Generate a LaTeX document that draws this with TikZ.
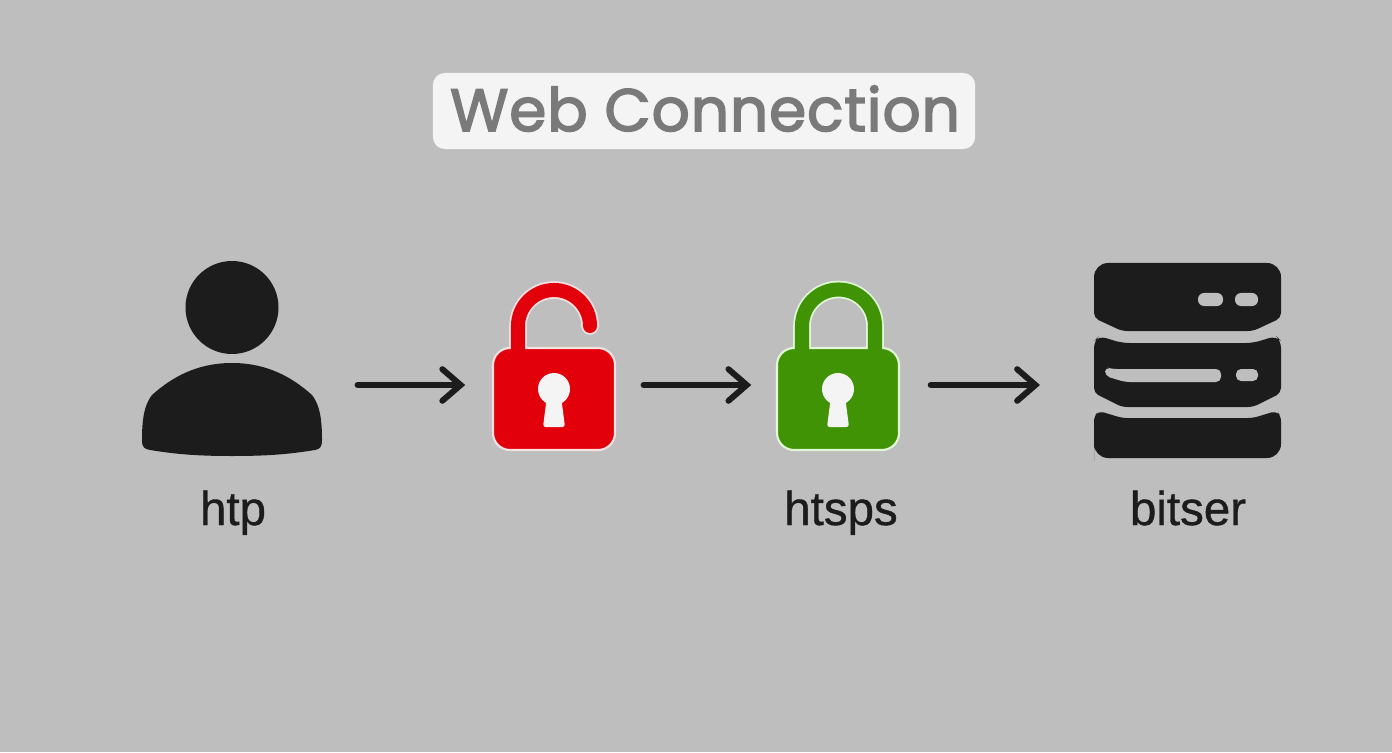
\documentclass[tikz,border=0pt]{standalone}
\usepackage{fontspec}
\newfontfamily\titlefont[FakeBold=2.6,LetterSpace=1.5]{Poppins}
\newfontfamily\labelfont[FakeBold=0.8]{Liberation Sans}
\usetikzlibrary{arrows.meta}
\definecolor{bgcol}{HTML}{BEBEBE}
\definecolor{icocol}{HTML}{1C1C1C}
\definecolor{lockred}{HTML}{E2000A}
\definecolor{lockgreen}{HTML}{3F9305}
\definecolor{palered}{HTML}{F6E2E2}
\definecolor{palegreen}{HTML}{E2F6D8}
\definecolor{keycol}{HTML}{F4F4F4}
\tikzset{
	iconbox/.style = {minimum height = 2cm, inner sep = 0pt},
	lbl/.style = {anchor = base, inner sep = 0pt, text = icocol, font = \labelfont\fontsize{13.5}{15}\selectfont},
	flow/.style = {-{Straight Barb[length = 5.2pt, width = 9pt, line cap = round]}, line width = 1.7pt, line cap = round, color = icocol},
}

\begin{document}
\begin{tikzpicture}[x = 0.01cm, y = -0.01cm]
		% \draw[step=100] (0,0) grid (1392,752);
		\fill[bgcol] (0,0) rectangle (1392,752);
		\node[fill = keycol, rounded corners = 0.12cm, minimum width = 5.42cm, minimum height = 0.76cm, inner sep = 0pt] (ttlbox) at (704,111) {};
		\node[inner sep = 0pt, anchor = base, text = black!52, font = \titlefont\fontsize{17}{20}\selectfont] (ttl) at (705,131) {Web Connection};

		% user
		\node[iconbox, minimum width = 1.8cm] (user) at (232,385) {};
		\fill[icocol] (232,307.5) circle (46.5);
		\fill[icocol] (232,363) .. controls (268,363) and (293,378) .. (312,395) .. controls (320,405) and (322,420) .. (322,440) .. controls (322,447) and (320,449) .. (315,450) .. controls (290,454) and (270,456) .. (232,456) .. controls (195,456) and (175,454) .. (150,450) .. controls (144,449) and (142,447) .. (142,440) .. controls (142,420) and (144,405) .. (152,395) .. controls (171,378) and (196,363) .. (232,363) -- cycle;

		% open lock
		\node[iconbox, minimum width = 1.22cm] (rlock) at (554,385) {};
		\draw[line width = 5pt, palered, line cap = round] (518,350) -- (518,326) arc (180:360:36 and 36);
		\draw[fill = lockred, draw = palered, line width = 0.6pt, rounded corners = 0.17cm] (493,348) rectangle (615,450);
		\draw[line width = 4pt, lockred] (518,351) -- (518,326) arc (180:360:36 and 36);
		\fill[lockred] (590,326) circle (7);

		% closed lock
		\node[iconbox, minimum width = 1.22cm] (glock) at (838,385) {};
		\draw[line width = 5pt, palegreen] (802,350) -- (802,326) arc (180:360:36.5 and 36.5) -- (875,350);
		\draw[fill = lockgreen, draw = palegreen, line width = 0.6pt, rounded corners = 0.17cm] (777,348) rectangle (899,450);
		\draw[line width = 4pt, lockgreen] (802,351) -- (802,326) arc (180:360:36.5 and 36.5) -- (875,351);

		% key holes
		\foreach \kx in {554,838}{
			\fill[keycol] (\kx,389) circle (16);
			\fill[keycol, rounded corners = 0.025cm] (\kx-7,396) -- (\kx+7,396) -- (\kx+11,427) -- (\kx-11,427) -- cycle;
		}

		% server
		\node[iconbox, minimum width = 1.87cm] (srv) at (1187,385) {};
		\fill[icocol, rounded corners = 0.05cm] (1094,318) [rounded corners = 0.14cm] -- (1094,263) -- (1281,263) [rounded corners = 0.05cm] -- (1281,318) -- (1253,331) -- (1122,331) -- cycle;
		\fill[icocol, rounded corners = 0.04cm] (1094,393) [rounded corners = 0.07cm] -- (1094,341) -- (1099,336) -- (1122,343) -- (1253,343) -- (1276,336) -- (1281,341) [rounded corners = 0.05cm] -- (1281,393) -- (1253,407) -- (1122,407) -- cycle;
		\fill[icocol, rounded corners = 0.04cm] (1094,447) [rounded corners = 0.05cm] -- (1094,416) -- (1099,411) -- (1122,418) -- (1253,418) -- (1276,411) -- (1281,416) [rounded corners = 0.14cm] -- (1281,458) -- (1094,458) -- cycle;
		\fill[bgcol, rounded corners = 0.06cm] (1198,293) rectangle (1223,306);
		\fill[bgcol, rounded corners = 0.06cm] (1235,293) rectangle (1258,306);
		\fill[bgcol, rounded corners = 0.05cm] (1105,367) -- (1105,376) -- (1125,382) -- (1221,382) -- (1221,369) -- (1112,369) -- cycle;
		\fill[bgcol, rounded corners = 0.05cm] (1236,369) rectangle (1258,381);

		\draw[flow, shorten <= 9.9pt, shorten >= 7.7pt] (user) -- (rlock);
		\draw[flow, shorten <= 7.9pt, shorten >= 7.1pt] (rlock) -- (glock);
		\draw[flow, shorten <= 8.8pt, shorten >= 15pt] (glock) -- (srv);

		\node[lbl] (l1) at (233,525) {htp};
		\node[lbl] (l2) at (841,525) {htsps};
		\node[lbl] (l3) at (1188,525) {bitser};
\end{tikzpicture}
\end{document}
